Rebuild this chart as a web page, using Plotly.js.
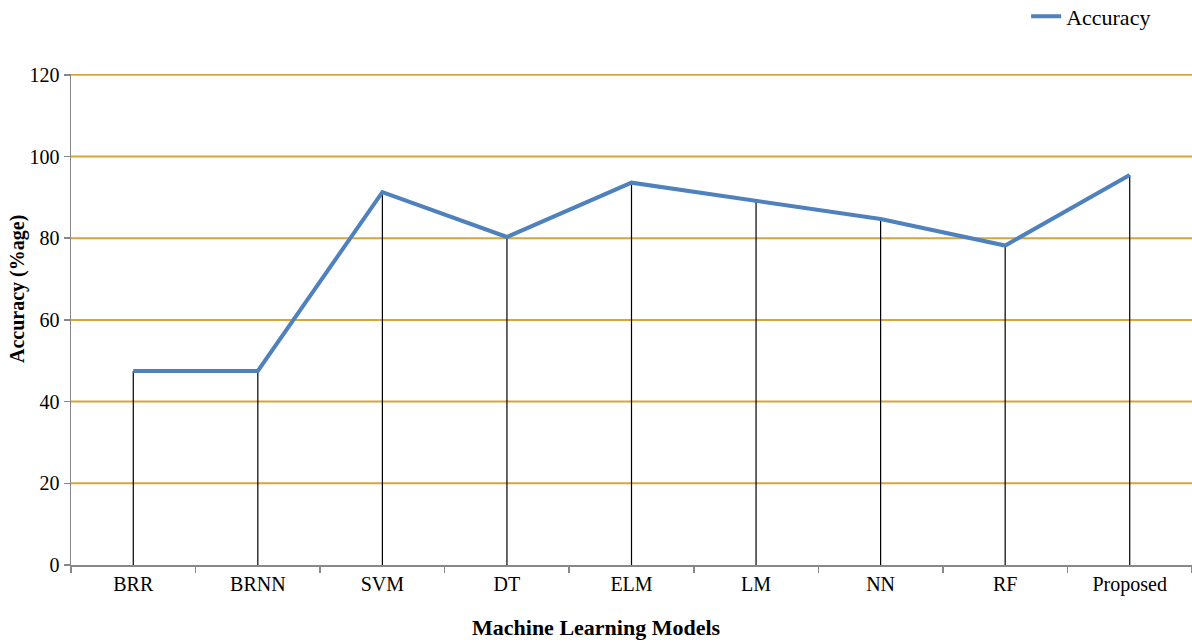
<!DOCTYPE html>
<html>
<head>
<meta charset="utf-8">
<script src="https://cdn.plot.ly/plotly-3.0.1.min.js"></script>
<style>
  html, body { margin: 0; padding: 0; background: #ffffff; }
  #chart { width: 1192px; height: 642px; }
</style>
</head>
<body>
<div id="chart"></div>
<script>
// Model names shown along the x axis
const models = ['BRR', 'BRNN', 'SVM', 'DT', 'ELM', 'LM', 'NN', 'RF', 'Proposed'];
// Accuracy of each model, in percent
const accuracy = [47.5, 47.5, 91.3, 80.3, 93.6, 89.1, 84.7, 78.2, 95.5];
// Y axis tick values
const yTicks = [0, 20, 40, 60, 80, 100, 120];

const serif = 'Liberation Serif, Times New Roman, serif';

// Vertical drop lines from each point down to zero
const dropX = [];
const dropY = [];
models.forEach((m, i) => {
  dropX.push(m, m, null);
  dropY.push(0, accuracy[i], null);
});

const drops = {
  x: dropX,
  y: dropY,
  type: 'scatter',
  mode: 'lines',
  line: { color: '#000000', width: 1.2 },
  hoverinfo: 'skip',
  showlegend: false
};

const acc = {
  x: models,
  y: accuracy,
  name: 'Accuracy',
  type: 'scatter',
  mode: 'lines',
  line: { color: '#4F81BD', width: 4 }
};

// Golden horizontal gridlines at every tick above zero
const gridShapes = yTicks.filter(v => v > 0).map(v => ({
  type: 'line',
  xref: 'paper', yref: 'y',
  x0: 0, x1: 1, y0: v, y1: v,
  layer: 'below',
  line: { color: '#D8A53C', width: 2 }
}));

const layout = {
  width: 1192,
  height: 642,
  margin: { l: 71, r: 0, t: 74, b: 77, autoexpand: false },
  paper_bgcolor: '#ffffff',
  plot_bgcolor: '#ffffff',
  font: { family: serif, color: '#000000', size: 20 },
  showlegend: true,
  legend: {
    x: 0.968, xanchor: 'right',
    y: 1.117, yanchor: 'middle',
    font: { family: serif, size: 22, color: '#000000' },
    bgcolor: 'rgba(0,0,0,0)',
    itemwidth: 30
  },
  shapes: gridShapes,
  xaxis: {
    type: 'category',
    categoryorder: 'array',
    categoryarray: models,
    range: [-0.5, models.length - 0.5],
    tickson: 'boundaries',
    ticks: 'outside',
    ticklen: 6,
    tickcolor: '#888888',
    tickwidth: 1.5,
    showline: true,
    linecolor: '#888888',
    linewidth: 1.5,
    showgrid: false,
    zeroline: false,
    automargin: false,
    tickfont: { family: serif, size: 20, color: '#000000' }
  },
  yaxis: {
    range: [0, 120.2],
    tickvals: yTicks,
    ticks: 'outside',
    ticklen: 6,
    tickcolor: '#888888',
    tickwidth: 1.5,
    showline: true,
    linecolor: '#888888',
    linewidth: 1.5,
    showgrid: false,
    zeroline: false,
    automargin: false,
    tickfont: { family: serif, size: 20, color: '#000000' }
  },
  annotations: [
    {
      text: '<b>Machine Learning Models</b>',
      xref: 'paper', yref: 'paper',
      x: 0.4692, y: -0.1283,
      xanchor: 'center', yanchor: 'middle',
      showarrow: false,
      font: { family: serif, size: 22, color: '#000000' }
    },
    {
      text: '<b>Accuracy (%age)</b>',
      xref: 'paper', yref: 'paper',
      x: -0.0482, y: 0.5621,
      xanchor: 'center', yanchor: 'middle',
      textangle: -90,
      showarrow: false,
      font: { family: serif, size: 20, color: '#000000' }
    }
  ]
};

Plotly.newPlot('chart', [drops, acc], layout, { displayModeBar: false, staticPlot: true });
</script>
</body>
</html>
